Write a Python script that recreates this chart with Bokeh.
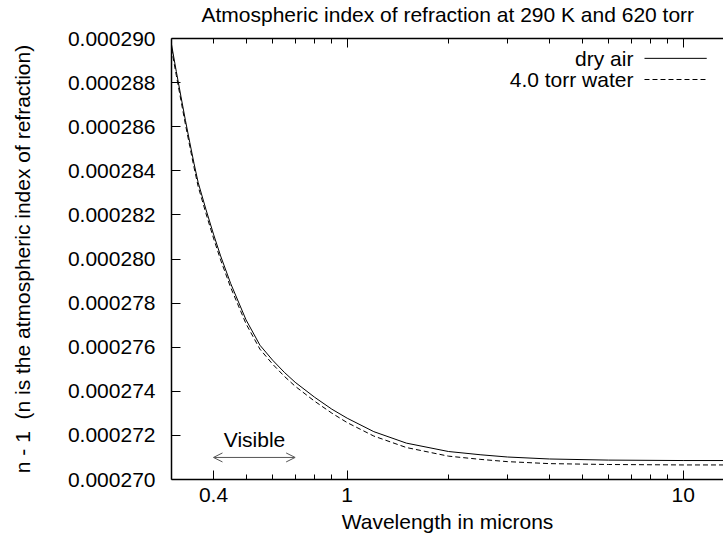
from bokeh.plotting import figure
from bokeh.models import (Range1d, FixedTicker, LogAxis, PrintfTickFormatter,
                          CustomJSTickFormatter, Label, Arrow, OpenHead)
from bokeh.embed import file_html
from bokeh.resources import INLINE

# ---------------- data ----------------
wavelength = [0.30, 0.31, 0.32, 0.33, 0.34, 0.35, 0.36, 0.38, 0.40, 0.42, 0.45,
              0.50, 0.55, 0.60, 0.65, 0.70, 0.80, 0.90, 1.0, 1.2, 1.5, 2.0,
              2.5, 3.0, 4.0, 6.0, 10.0, 14.0]
dry_air = [0.00028973, 0.00028851, 0.00028738, 0.00028629, 0.00028529,
           0.00028434, 0.00028348, 0.00028224, 0.00028113, 0.00028014,
           0.00027889, 0.00027724, 0.00027609, 0.00027541, 0.00027486,
           0.00027441, 0.00027373, 0.00027319, 0.00027278, 0.00027217,
           0.00027165, 0.00027127, 0.00027112, 0.00027102, 0.00027093,
           0.00027088, 0.00027086, 0.00027086]
water_4torr = [0.00028955, 0.00028833, 0.00028720, 0.00028611, 0.00028511,
               0.00028416, 0.00028330, 0.00028206, 0.00028095, 0.00027996,
               0.00027871, 0.00027706, 0.00027591, 0.00027523, 0.00027468,
               0.00027423, 0.00027355, 0.00027301, 0.00027258, 0.00027197,
               0.00027145, 0.00027106, 0.00027091, 0.00027081, 0.00027072,
               0.00027068, 0.00027066, 0.00027066]
series_labels = ["dry air", "4.0 torr water"]

y_ticks = [0.000270, 0.000272, 0.000274, 0.000276, 0.000278, 0.000280,
           0.000282, 0.000284, 0.000286, 0.000288, 0.000290]
x_major_ticks = [0.4, 1, 10]
x_minor_ticks = [0.5, 0.6, 0.7, 0.8, 0.9, 2, 3, 4, 5, 6, 7, 8, 9]
top_major_ticks = [1, 10]
top_minor_ticks = [0.4, 0.5, 0.6, 0.7, 0.8, 0.9, 2, 3, 4, 5, 6, 7, 8, 9]

visible_band = [0.4, 0.7]
visible_level = 0.000271
visible_text = "Visible"

title_text = "Atmospheric index of refraction at 290 K and 620 torr"
x_label = "Wavelength in microns"
y_label = "n - 1 \u00a0(n is the atmospheric index of refraction)"

# annotation placement (data units)
visible_text_pos = (0.53, 0.0002718)
legend_text_x = 7.11
legend_line_x = [7.67, 11.75]
legend_rows_y = [0.00028910, 0.00028814]

FONT = "Liberation Sans"
FS = "21px"

p = figure(width=723, height=536, x_axis_type="log",
           x_range=Range1d(0.3, 13.18), y_range=Range1d(0.000270, 0.000290),
           output_backend="svg", toolbar_location=None,
           min_border_left=171, min_border_right=0, min_border_top=37,
           min_border_bottom=57, title=title_text)

p.background_fill_color = "white"
p.border_fill_color = "white"
p.outline_line_color = None
p.xgrid.visible = False
p.ygrid.visible = False

p.title.text_font = FONT
p.title.text_font_size = FS
p.title.text_font_style = "normal"
p.title.text_color = "black"
p.title.align = "left"
p.title.offset = 30
p.title.standoff = 0

# bottom axis
xa = p.xaxis[0]
xa.ticker = FixedTicker(ticks=x_major_ticks, minor_ticks=x_minor_ticks)
xa.formatter = CustomJSTickFormatter(code="return String(tick)")
xa.axis_label = x_label
xa.axis_label_text_font = FONT
xa.axis_label_text_font_size = FS
xa.axis_label_text_font_style = "normal"
xa.axis_label_text_color = "black"
xa.axis_label_standoff = 5
xa.major_label_text_font = FONT
xa.major_label_text_font_size = FS
xa.major_label_text_color = "black"
xa.major_label_standoff = 8
xa.major_tick_in = 9
xa.major_tick_out = 0
xa.minor_tick_in = 5
xa.minor_tick_out = 0
xa.axis_line_width = 1.5
xa.major_tick_line_width = 1
xa.minor_tick_line_width = 1

# left axis
ya = p.yaxis[0]
ya.ticker = FixedTicker(ticks=y_ticks)
ya.formatter = PrintfTickFormatter(format="%.6f")
ya.axis_label = y_label
ya.axis_label_text_font = FONT
ya.axis_label_text_font_size = FS
ya.axis_label_text_font_style = "normal"
ya.axis_label_text_color = "black"
ya.axis_label_standoff = 31
ya.major_label_text_font = FONT
ya.major_label_text_font_size = FS
ya.major_label_text_color = "black"
ya.major_label_standoff = 16
ya.major_tick_in = 9
ya.major_tick_out = 0
ya.minor_tick_line_color = None
ya.axis_line_width = 1.5

# top mirror axis (ticks only); a blank spacer label lifts the title
top = LogAxis(ticker=FixedTicker(ticks=top_major_ticks, minor_ticks=top_minor_ticks),
              major_label_text_font_size="0px", major_label_standoff=0,
              major_tick_in=9, major_tick_out=0, minor_tick_in=5, minor_tick_out=0,
              axis_line_width=1.5, axis_label=" ", axis_label_text_font_size="1px",
              axis_label_standoff=9)
top.formatter = CustomJSTickFormatter(code="return ''")
p.add_layout(top, "above")

# curves
p.line(wavelength, dry_air, line_color="black", line_width=1)
p.line(wavelength, water_4torr, line_color="black", line_width=1, line_dash="5 3")

# visible band arrow + label
p.add_layout(Arrow(start=OpenHead(size=9, line_color="#555555", line_width=1),
                   end=OpenHead(size=9, line_color="#555555", line_width=1),
                   x_start=visible_band[0], x_end=visible_band[1],
                   y_start=visible_level, y_end=visible_level,
                   line_color="#555555", line_width=1))
p.add_layout(Label(x=visible_text_pos[0], y=visible_text_pos[1], text=visible_text,
                   text_align="center", text_baseline="middle",
                   text_font=FONT, text_font_size=FS, text_color="black"))

# legend (text on the left, sample on the right)
dashes = [None, "5 3"]
for lab, yy, dash in zip(series_labels, legend_rows_y, dashes):
    p.add_layout(Label(x=legend_text_x, y=yy, text=lab, text_align="right",
                       text_baseline="middle", text_font=FONT, text_font_size=FS,
                       text_color="black"))
    kw = dict(start=None, end=None, x_start=legend_line_x[0], x_end=legend_line_x[1],
              y_start=yy, y_end=yy, line_color="black", line_width=1)
    if dash:
        kw["line_dash"] = dash
    p.add_layout(Arrow(**kw))

open("out.html", "w").write(file_html(p, INLINE, title="refraction"))
